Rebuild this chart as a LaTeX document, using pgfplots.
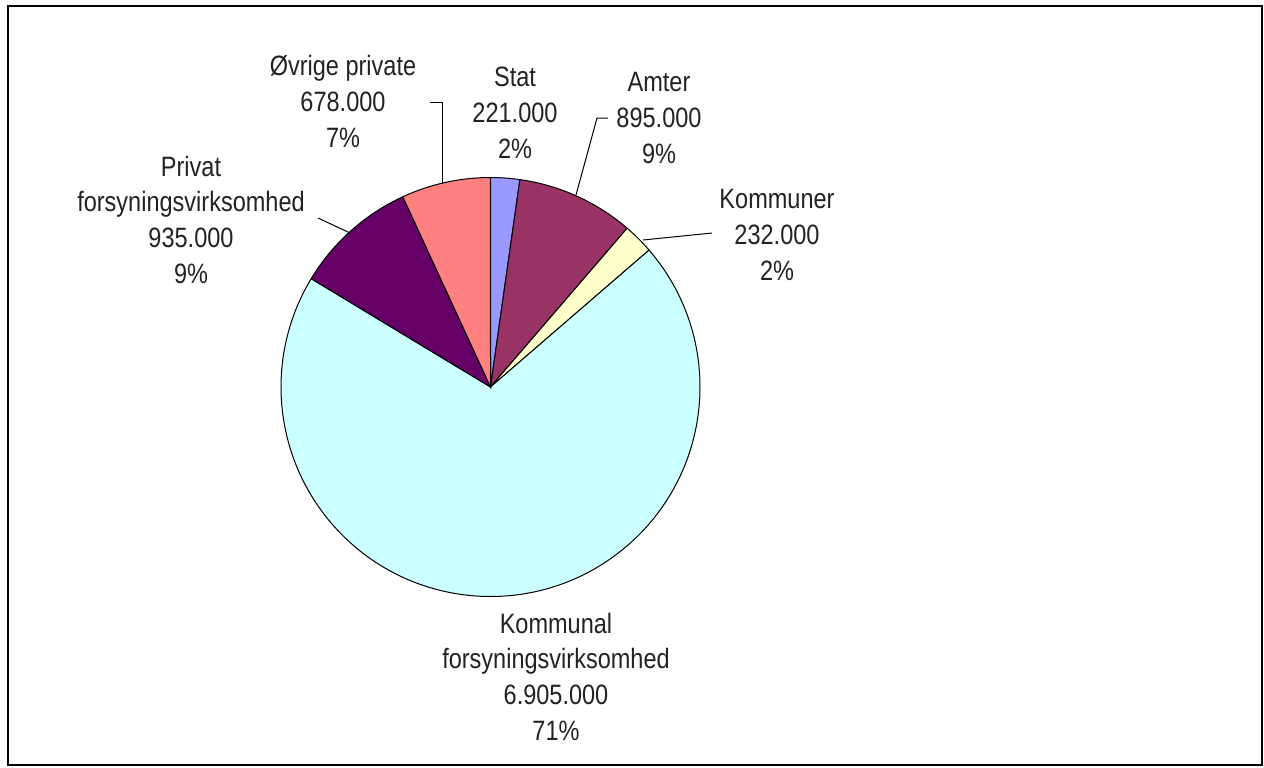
\documentclass[border=0pt]{standalone}
\usepackage{fontspec}
\setmainfont{Liberation Sans}[FakeStretch=0.84]
\usepackage{pgfplots}
\usepackage{pgfplotstable}
\pgfplotsset{compat=1.18}

\definecolor{cstat}{HTML}{9999FF}
\definecolor{camter}{HTML}{993366}
\definecolor{ckommuner}{HTML}{FFFFCC}
\definecolor{ckommunal}{HTML}{CCFFFF}
\definecolor{cprivat}{HTML}{660066}
\definecolor{covrige}{HTML}{FF8080}
\definecolor{txt}{HTML}{222222}

% values in thousands
\pgfplotstableread{
label     value  color
Stat       221   cstat
Amter      895   camter
Kommuner   232   ckommuner
Kommunal  6905   ckommunal
Privat     935   cprivat
Ovrige     678   covrige
}\piedata

\begin{document}
\begin{tikzpicture}[lbl/.style={anchor=base, align=center, text=txt,
    font=\fontsize{14pt}{17.8pt}\selectfont}]
\gdef\total{0}
\pgfplotsinvokeforeach{0,...,5}{%
  \pgfplotstablegetelem{#1}{value}\of\piedata
  \pgfmathsetmacro\tmp{\total+\pgfplotsretval}%
  \global\let\total\tmp
}
\gdef\startang{90}
\begin{axis}[
    x=0.5pt, y=0.5pt,
    xmin=0, xmax=1264, ymin=0, ymax=767,
    y dir=reverse,
    hide axis, clip=false,
  ]
  \path (axis cs:0,0) rectangle (axis cs:1264,767);
  \draw[line width=1pt] (axis cs:8,6) rectangle (axis cs:1262,765);
  \pgfplotsinvokeforeach{0,...,5}{%
    \pgfplotstablegetelem{#1}{value}\of\piedata \let\v\pgfplotsretval
    \pgfplotstablegetelem{#1}{color}\of\piedata \let\c\pgfplotsretval
    \pgfmathsetmacro\endang{\startang-360*(\v/\total)}%
    \edef\temp{\noexpand\draw[fill=\c, line width=0.5pt]
      (axis cs:490.5,387) -- ++(\startang:104.75pt)
      arc[start angle=\startang, end angle=\endang, radius=104.75pt] -- cycle;}%
    \temp
    \global\let\startang\endang
  }
  % leader lines
  \draw[line width=0.5pt] (axis cs:430,102) -- (axis cs:442,102) -- (axis cs:442,183);
  \draw[line width=0.5pt] (axis cs:608,118) -- (axis cs:597,118) -- (axis cs:576,195);
  \draw[line width=0.5pt] (axis cs:643,240) -- (axis cs:712,233);
  \draw[line width=0.5pt] (axis cs:318,218) -- (axis cs:350,233);
  % labels (anchored at the baseline of the last line)
  \node[lbl] at (axis cs:343,147) {Øvrige private\\678.000\\7\%};
  \node[lbl] at (axis cs:515,158) {Stat\\221.000\\2\%};
  \node[lbl] at (axis cs:659,163) {Amter\\895.000\\9\%};
  \node[lbl] at (axis cs:777,280) {Kommuner\\232.000\\2\%};
  \node[lbl] at (axis cs:191,283) {Privat\\forsyningsvirksomhed\\935.000\\9\%};
  \node[lbl] at (axis cs:556,740) {Kommunal\\forsyningsvirksomhed\\6.905.000\\71\%};
\end{axis}
\end{tikzpicture}
\end{document}
